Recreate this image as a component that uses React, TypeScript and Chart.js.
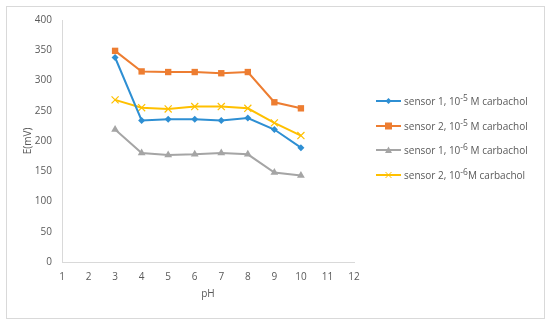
import React, { useEffect, useRef } from "react";
import { Chart, registerables } from "chart.js";

Chart.register(...registerables);

const phValues = [3, 4, 5, 6, 7, 8, 9, 10];
const sensor1e5 = [338, 234, 236, 236, 234, 238, 219, 189];
const sensor2e5 = [349, 315, 314, 314, 312, 314, 264, 254];
const sensor1e6 = [219, 180, 177, 178, 180, 178, 148, 143];
const sensor2e6 = [268, 255, 253, 257, 257, 254, 230, 209];
const yTicks = [0, 50, 100, 150, 200, 250, 300, 350, 400];
const xTicks = [1, 2, 3, 4, 5, 6, 7, 8, 9, 10, 11, 12];

const FONT = "'Open Sans', 'Noto Sans', sans-serif";
const TEXT = "#595959";

type S = { label: string; exp: string; tail: string; color: string; style: string; radius: number; values: number[] };
const series: S[] = [
  { label: "sensor 1, 10", exp: "-5", tail: " M carbachol", color: "#2E8FD3", style: "rectRot", radius: 3.5, values: sensor1e5 },
  { label: "sensor 2, 10", exp: "-5", tail: " M carbachol", color: "#ED7D31", style: "rect", radius: 4.5, values: sensor2e5 },
  { label: "sensor 1, 10", exp: "-6", tail: " M carbachol", color: "#A5A5A5", style: "triangle", radius: 4.5, values: sensor1e6 },
  { label: "sensor 2, 10", exp: "-6", tail: "M carbachol", color: "#FFC000", style: "crossRot", radius: 5, values: sensor2e6 },
];

function Marker({ s }: { s: S }) {
  const c = s.color;
  let m: React.ReactNode = null;
  if (s.style === "rectRot") m = <polygon points="12.5,2 15.5,5 12.5,8 9.5,5" fill={c} />;
  else if (s.style === "rect") m = <rect x={9} y={1.5} width={7} height={7} fill={c} />;
  else if (s.style === "triangle") m = <polygon points="12.5,1.5 16,8 9,8" fill={c} />;
  else m = <path d="M9.5,2 L15.5,8 M15.5,2 L9.5,8" stroke={c} strokeWidth={1} />;
  return (
    <svg width={25} height={10} style={{ display: "block" }}>
      <line x1={0} y1={5} x2={25} y2={5} stroke={c} strokeWidth={2} />
      {m}
    </svg>
  );
}

export default function App() {
  const ref = useRef<HTMLCanvasElement | null>(null);
  useEffect(() => {
    if (!ref.current) return;
    const chart = new Chart(ref.current, {
      type: "line",
      data: {
        datasets: series.map((s) => ({
          label: s.label + s.exp + s.tail,
          data: phValues.map((x, i) => ({ x, y: s.values[i] })),
          borderColor: s.color,
          backgroundColor: s.color,
          borderWidth: 2,
          pointStyle: s.style as any,
          pointRadius: s.radius,
          pointBorderWidth: s.style === "crossRot" ? 1.2 : 0,
          pointBorderColor: s.color,
          pointBackgroundColor: s.color,
          tension: 0,
        })),
      },
      options: {
        animation: false,
        responsive: false,
        maintainAspectRatio: false,
        layout: { padding: { left: 0, top: 20, right: 196, bottom: 20 } },
        plugins: { legend: { display: false }, tooltip: { enabled: false } },
        scales: {
          x: {
            type: "linear",
            min: 1,
            max: 12,
            afterBuildTicks: (sc: any) => { sc.ticks = xTicks.map((v) => ({ value: v })); },
            afterFit: (sc: any) => { sc.height = 42; },
            grid: { display: false, drawTicks: false },
            border: { display: true, color: "#D9D9D9", width: 1 },
            ticks: { color: TEXT, font: { family: FONT, size: 10 }, padding: 9 },
            title: { display: true, text: "pH", color: TEXT, font: { family: FONT, size: 10 }, padding: { top: 0, bottom: 4 } },
          },
          y: {
            min: 0,
            max: 400,
            afterBuildTicks: (sc: any) => { sc.ticks = yTicks.map((v) => ({ value: v })); },
            afterFit: (sc: any) => { sc.width = 62; },
            grid: { display: false, drawTicks: false },
            border: { display: true, color: "#D9D9D9", width: 1 },
            ticks: { color: TEXT, font: { family: FONT, size: 10 }, padding: 10 },
            title: { display: true, text: "E(mV)", color: TEXT, font: { family: FONT, size: 10 }, padding: { top: 22, bottom: 0 } },
          },
        },
      },
    });
    return () => chart.destroy();
  }, []);

  return (
    <div style={{ position: "fixed", left: 0, top: 0, width: 550, height: 324, background: "#fff" }}>
      <div style={{ position: "absolute", left: 6, top: 6, width: 537, height: 311, border: "1px solid #D9D9D9" }} />
      <canvas ref={ref} width={550} height={324} style={{ position: "absolute", left: 0, top: 0 }} />
      <div style={{ position: "absolute", left: 376, top: 89, fontFamily: FONT, fontSize: 10, color: TEXT }}>
        {series.map((s, i) => (
          <div key={i} style={{ display: "flex", alignItems: "center", height: 24.5, whiteSpace: "nowrap" }}>
            <Marker s={s} />
            <span style={{ marginLeft: 3 }}>
              {s.label}
              <sup style={{ fontSize: 8.5, lineHeight: 0 }}>{s.exp}</sup>
              {s.tail}
            </span>
          </div>
        ))}
      </div>
    </div>
  );
}
